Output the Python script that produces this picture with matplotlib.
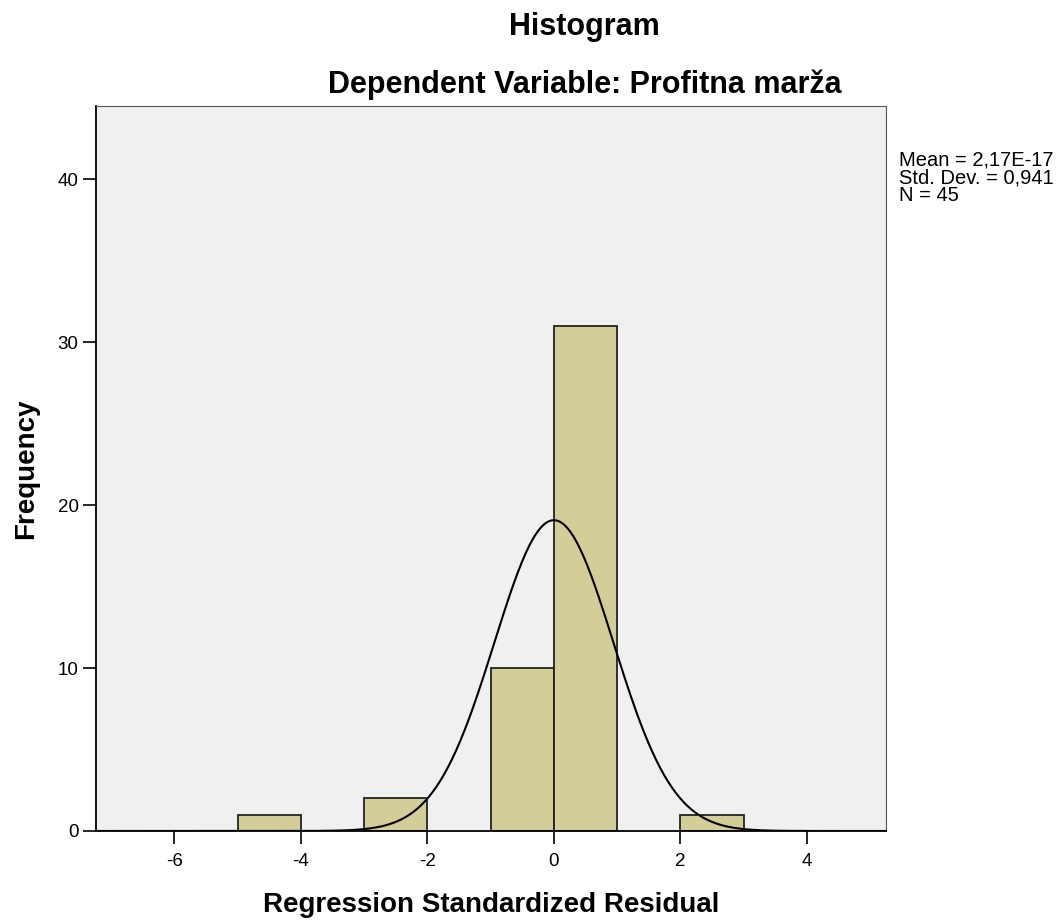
import numpy as np
import matplotlib
matplotlib.use("Agg")
import matplotlib.pyplot as plt

plt.rcParams['font.family'] = ['Liberation Sans', 'DejaVu Sans']
plt.rcParams['axes.unicode_minus'] = False

# histogram bins (left edge) and counts
bin_lefts = [-5, -3, -1, 0, 2]
bin_width = 1
counts = [1, 2, 10, 31, 1]

# summary stats shown on the chart
mean = 2.17e-17
std_dev = 0.941
n = 45

xticks = [-6, -4, -2, 0, 2, 4]
yticks = [0, 10, 20, 30, 40]

fig = plt.figure(figsize=(10.61, 9.22), dpi=100)
ax = fig.add_axes([0.0905, 0.0987, 0.7445, 0.7863])
ax.set_facecolor('#f0f0f0')

ax.bar(bin_lefts, counts, width=bin_width, align='edge', color='#d3ce97',
       edgecolor='#222222', linewidth=1.3, zorder=2)

# normal curve scaled to the histogram
xs = np.linspace(-7.24, 5.25, 400)
ys = n * bin_width / (std_dev * np.sqrt(2 * np.pi)) * np.exp(-0.5 * ((xs - mean) / std_dev) ** 2)
ax.plot(xs, ys, color='black', linewidth=1.5, zorder=3)

ax.set_xlim(-7.24, 5.25)
ax.set_ylim(0, 44.5)
ax.set_xticks(xticks)
ax.set_yticks(yticks)
ax.tick_params(direction='out', length=9.5, width=1.2, labelsize=13.5, colors='black')
ax.tick_params(axis='x', pad=6)
ax.tick_params(axis='y', pad=3)
for s in ['top', 'right']:
    ax.spines[s].set_color('#555555')
for s in ['left', 'bottom']:
    ax.spines[s].set_color('black')
    ax.spines[s].set_linewidth(1.3)

ax.set_xlabel('Regression Standardized Residual', fontsize=20, fontweight='bold', labelpad=16)
ax.set_ylabel('Frequency', fontsize=20, fontweight='bold', labelpad=13)

fig.text(0.551, 0.971, 'Histogram', ha='center', va='center', fontsize=22, fontweight='bold')
fig.text(0.551, 0.908, 'Dependent Variable: Profitna marža', ha='center', va='center',
         fontsize=22, fontweight='bold')

fig.text(0.847, 0.837, 'Mean = 2,17E-17\nStd. Dev. = 0,941\nN = {}'.format(n),
         ha='left', va='top', fontsize=14.5, linespacing=0.92)

fig.savefig('out.png', dpi=100)
